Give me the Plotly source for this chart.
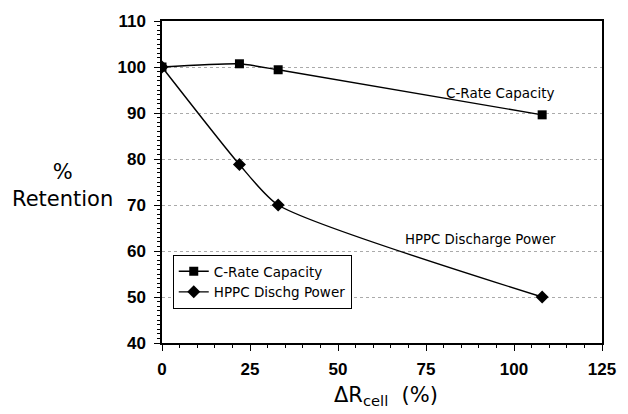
import plotly.graph_objects as go

x_vals = [0, 22, 33, 108]
crate = [100, 100.7, 99.4, 89.6]
hppc = [100, 78.8, 70.0, 50.0]
names = ["C-Rate Capacity", "HPPC Dischg Power"]
x_ticks = [0, 25, 50, 75, 100, 125]
y_ticks = [40, 50, 60, 70, 80, 90, 100, 110]

W, H = 628, 414
L, R, T, B = 162, 16, 21, 71
pw, ph = W - L - R, H - T - B


def px(x):
    return (x - L) / pw


def py(y):
    return (H - B - y) / ph


fig = go.Figure()
fig.add_trace(go.Scatter(x=x_vals, y=crate, name=names[0], mode="lines+markers",
                         line=dict(color="black", width=1.4, shape="spline", smoothing=0.5),
                         marker=dict(symbol="square", size=9, color="black")))
fig.add_trace(go.Scatter(x=x_vals, y=hppc, name=names[1], mode="lines+markers",
                         line=dict(color="black", width=1.4, shape="spline", smoothing=0.6),
                         marker=dict(symbol="diamond", size=10, color="black")))

sans = "DejaVu Sans"
tickfont = dict(family="Arial, Liberation Sans", size=17, color="black", weight="bold")
fig.update_layout(
    width=W, height=H,
    margin=dict(l=L, r=R, t=T, b=B),
    plot_bgcolor="white", paper_bgcolor="white",
    showlegend=True,
    legend=dict(x=px(173), y=py(255), xanchor="left", yanchor="top",
                bordercolor="black", borderwidth=1, bgcolor="white",
                font=dict(family=sans, size=13.5, color="black"),
                tracegroupgap=0, itemwidth=30),
    xaxis=dict(range=[0, 125], tickvals=x_ticks, ticks="outside", ticklen=6, tickwidth=1,
               tickcolor="black", showline=True, linecolor="black", linewidth=1.5, mirror=True,
               showgrid=False, zeroline=False, tickfont=tickfont, ticklabelstandoff=4,
               minor=dict(dtick=5, ticks="outside", ticklen=3, tickcolor="black", showgrid=False)),
    yaxis=dict(range=[40, 110], tickvals=y_ticks, ticks="outside", ticklen=6, tickwidth=1,
               tickcolor="black", showline=True, linecolor="black", linewidth=1.5, mirror=True,
               showgrid=True, gridcolor="#aaaaaa", griddash="dot", gridwidth=1, zeroline=False,
               tickfont=tickfont, ticklabelstandoff=5,
               minor=dict(dtick=1, ticks="outside", ticklen=3, tickcolor="black", showgrid=False)),
    annotations=[
        dict(text="C-Rate Capacity", x=96.1, y=94.45, xref="x", yref="y", showarrow=False,
             xanchor="center", yanchor="middle",
             font=dict(family=sans, size=13.5, color="black")),
        dict(text="HPPC Discharge Power", x=90.6, y=62.6, xref="x", yref="y", showarrow=False,
             xanchor="center", yanchor="middle",
             font=dict(family=sans, size=13.3, color="black")),
        dict(text="%<br>Retention", x=px(60), y=py(185), xref="paper", yref="paper",
             showarrow=False, xanchor="center", yanchor="middle",
             font=dict(family=sans, size=21, color="black")),
        dict(text="ΔR<sub>cell</sub>  (%)", x=px(391), y=py(396), xref="paper", yref="paper",
             showarrow=False, xanchor="center", yanchor="middle",
             font=dict(family=sans, size=21, color="black")),
    ],
)
fig.write_html("out.html")
